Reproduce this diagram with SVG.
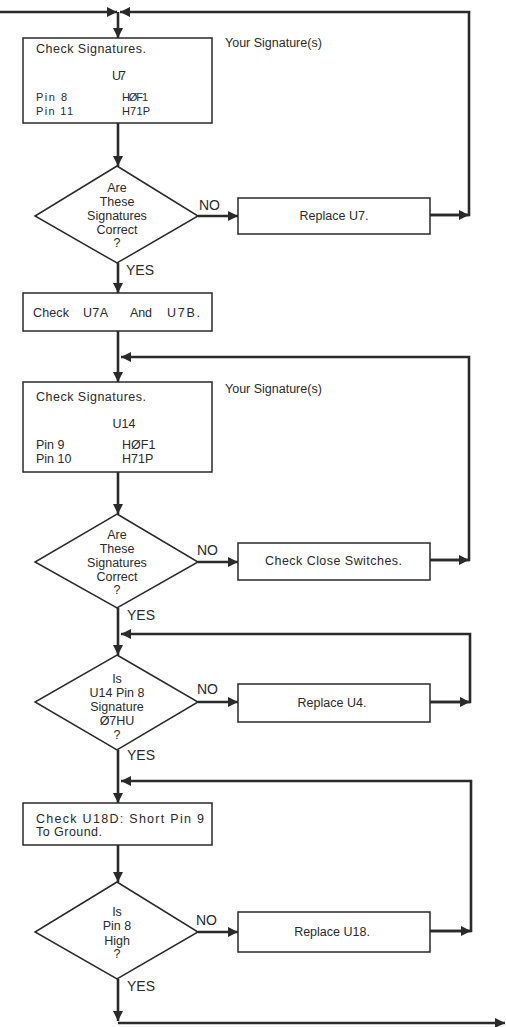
<svg xmlns="http://www.w3.org/2000/svg" width="506" height="1027" viewBox="0 0 506 1027">
<style>
.bx{fill:#fff;stroke:#2a2a2a;stroke-width:1.5}
.t{font-family:"Liberation Sans",Arial,sans-serif;font-size:12.5px;fill:#2a2a2a}
.p{font-family:"Liberation Sans",Arial,sans-serif;font-size:11px;fill:#2a2a2a}
.c{text-anchor:middle}
.lb{font-family:"Liberation Sans",Arial,sans-serif;font-size:14px;fill:#2a2a2a}
.ln{fill:none;stroke:#2a2a2a;stroke-width:2.6}
</style>
<defs>
<marker id="ah" viewBox="0 0 10 10" refX="10" refY="5" markerWidth="11" markerHeight="10" markerUnits="userSpaceOnUse" orient="auto">
<path d="M0,0 L10,5 L0,10 z" fill="#2a2a2a"/>
</marker>
</defs>
<rect width="506" height="1027" fill="#fff"/>
<g id="connectors">
<path class="ln" d="M0,12 H117" marker-end="url(#ah)"/>
<path class="ln" d="M430,215 H469 V12 H120" marker-end="url(#ah)"/>
<path class="ln" d="M430,215 H469" marker-end="url(#ah)"/>
<path class="ln" d="M118,12 V38" marker-end="url(#ah)"/>
<path class="ln" d="M118,123 V166" marker-end="url(#ah)"/>
<path class="ln" d="M198,216 H238" marker-end="url(#ah)"/>
<path class="ln" d="M118,263 V293" marker-end="url(#ah)"/>
<path class="ln" d="M118,331 V382" marker-end="url(#ah)"/>
<path class="ln" d="M430,560 H469 V357 H121" marker-end="url(#ah)"/>
<path class="ln" d="M430,560 H469" marker-end="url(#ah)"/>
<path class="ln" d="M118,472 V514" marker-end="url(#ah)"/>
<path class="ln" d="M198,562 H238" marker-end="url(#ah)"/>
<path class="ln" d="M118,608 V655" marker-end="url(#ah)"/>
<path class="ln" d="M430,702 H470 V634 H121" marker-end="url(#ah)"/>
<path class="ln" d="M430,702 H470" marker-end="url(#ah)"/>
<path class="ln" d="M198,702 H238" marker-end="url(#ah)"/>
<path class="ln" d="M118,750 V803" marker-end="url(#ah)"/>
<path class="ln" d="M430,931 H471 V781 H121" marker-end="url(#ah)"/>
<path class="ln" d="M430,931 H471" marker-end="url(#ah)"/>
<path class="ln" d="M118,845 V882" marker-end="url(#ah)"/>
<path class="ln" d="M198,932 H238" marker-end="url(#ah)"/>
<path class="ln" d="M118,979 V1021" marker-end="url(#ah)"/>
<path class="ln" d="M118,1023 H505" marker-end="url(#ah)"/>
</g>
<g id="box1">
<rect class="bx" x="23" y="38" width="189" height="85"/>
<text class="t" x="36" y="53" textLength="110">Check Signatures.</text>
<text class="t" x="112" y="80" textLength="14">U7</text>
<text class="p" x="36" y="101" textLength="31">Pin 8</text>
<text class="p" x="122" y="101" textLength="26">HØF1</text>
<text class="p" x="36" y="115" textLength="37">Pin 11</text>
<text class="p" x="122" y="115" textLength="28">H71P</text>
</g>
<g id="sig1"><text class="t" x="225" y="47">Your Signature(s)</text></g>
<g id="dec1">
<polygon class="bx" points="117,166 198,216 117,263 35,216"/>
<text class="t c" x="117" y="192">Are</text>
<text class="t c" x="117" y="206">These</text>
<text class="t c" x="117" y="220">Signatures</text>
<text class="t c" x="117" y="234">Correct</text>
<text class="t c" x="117" y="247">?</text>
<text class="lb" x="199" y="210">NO</text>
<text class="lb" x="126" y="275">YES</text>
</g>
<g id="rep1">
<rect class="bx" x="238" y="198" width="192" height="36"/>
<text class="t c" x="334" y="220">Replace U7.</text>
</g>
<g id="box7ab">
<rect class="bx" x="23" y="293" width="189" height="38"/>
<text class="t" x="33" y="317" textLength="36">Check</text>
<text class="t" x="83" y="317" textLength="25">U7A</text>
<text class="t" x="130" y="317" textLength="22">And</text>
<text class="t" x="167" y="317" textLength="33">U7B.</text>
</g>
<g id="box2">
<rect class="bx" x="23" y="382" width="189" height="90"/>
<text class="t" x="36" y="401" textLength="110">Check Signatures.</text>
<text class="t c" x="124" y="428">U14</text>
<text class="t" x="36" y="449">Pin 9</text>
<text class="t" x="122" y="449">HØF1</text>
<text class="t" x="36" y="463">Pin 10</text>
<text class="t" x="122" y="463">H71P</text>
</g>
<g id="sig2"><text class="t" x="225" y="393">Your Signature(s)</text></g>
<g id="dec2">
<polygon class="bx" points="117,514 198,562 117,608 35,562"/>
<text class="t c" x="117" y="539">Are</text>
<text class="t c" x="117" y="553">These</text>
<text class="t c" x="117" y="567">Signatures</text>
<text class="t c" x="117" y="581">Correct</text>
<text class="t c" x="117" y="594">?</text>
<text class="lb" x="197" y="555">NO</text>
<text class="lb" x="127" y="620">YES</text>
</g>
<g id="rep2">
<rect class="bx" x="238" y="543" width="192" height="37"/>
<text class="t" x="265" y="565" textLength="137">Check Close Switches.</text>
</g>
<g id="dec3">
<polygon class="bx" points="117,655 198,702 117,750 35,702"/>
<text class="t c" x="117" y="683">Is</text>
<text class="t c" x="117" y="697">U14 Pin 8</text>
<text class="t c" x="117" y="711">Signature</text>
<text class="t c" x="117" y="725">Ø7HU</text>
<text class="t c" x="117" y="739">?</text>
<text class="lb" x="197" y="694">NO</text>
<text class="lb" x="127" y="760">YES</text>
</g>
<g id="rep3">
<rect class="bx" x="238" y="684" width="192" height="38"/>
<text class="t c" x="332" y="707">Replace U4.</text>
</g>
<g id="box4">
<rect class="bx" x="23" y="803" width="189" height="42"/>
<text class="t" x="36" y="823" textLength="168">Check U18D: Short Pin 9</text>
<text class="t" x="36" y="836" textLength="66">To Ground.</text>
</g>
<g id="dec4">
<polygon class="bx" points="117,882 198,932 117,979 35,932"/>
<text class="t c" x="117" y="916">Is</text>
<text class="t c" x="117" y="930">Pin 8</text>
<text class="t c" x="117" y="945">High</text>
<text class="t c" x="117" y="958">?</text>
<text class="lb" x="196" y="925">NO</text>
<text class="lb" x="127" y="991">YES</text>
</g>
<g id="rep4">
<rect class="bx" x="238" y="912" width="192" height="40"/>
<text class="t c" x="332" y="936">Replace U18.</text>
</g>
</svg>
